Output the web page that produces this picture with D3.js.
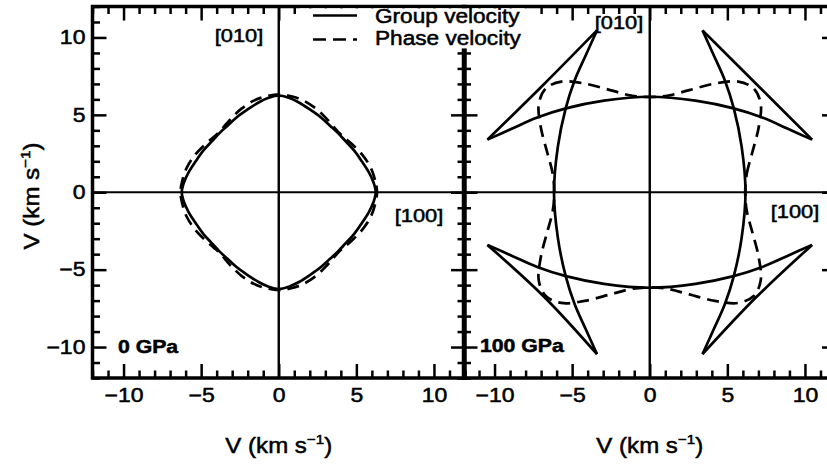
<!DOCTYPE html>
<meta charset="utf-8">
<style>
body { margin: 0; background: #fff; }
text { font-family: "Liberation Sans", Arial, sans-serif; fill: #000; stroke: #000; stroke-width: 0.5px; }
</style>
<svg width="827" height="464"></svg>
<script src="https://cdn.jsdelivr.net/npm/d3@7"></script>
<script>

// tick values (km/s)
var majorTicks = [-10, -5, 0, 5, 10],
    minorTicks = [-12, -11, -9, -8, -7, -6, -4, -3, -2, -1, 1, 2, 3, 4, 6, 7, 8, 9, 11, 12];

// 0 GPa: group velocity (closed curve)
var group0 = [
  [6.25, 0], [6.1, 0.65], [5.8, 1.3], [5.35, 2.0], [4.85, 2.7], [4.3, 3.3], [3.82, 3.82], [3.3, 4.3], [2.7, 4.85], [2.0, 5.35], [1.3, 5.8], [0.65, 6.1],
  [0, 6.25], [-0.65, 6.1], [-1.3, 5.8], [-2.0, 5.35], [-2.7, 4.85], [-3.3, 4.3], [-3.82, 3.82], [-4.3, 3.3], [-4.85, 2.7], [-5.35, 2.0], [-5.8, 1.3], [-6.1, 0.65],
  [-6.25, 0], [-6.1, -0.65], [-5.8, -1.3], [-5.35, -2.0], [-4.85, -2.7], [-4.3, -3.3], [-3.82, -3.82], [-3.3, -4.3], [-2.7, -4.85], [-2.0, -5.35], [-1.3, -5.8], [-0.65, -6.1],
  [0, -6.25], [0.65, -6.1], [1.3, -5.8], [2.0, -5.35], [2.7, -4.85], [3.3, -4.3], [3.82, -3.82], [4.3, -3.3], [4.85, -2.7], [5.35, -2.0], [5.8, -1.3], [6.1, -0.65]
];

// 0 GPa: phase velocity (closed curve)
var phase0 = [
  [6.33, 0], [6.2, 0.8], [5.92, 1.6], [5.4, 2.4], [4.75, 3.08], [4.18, 3.58], [3.86, 3.86], [3.58, 4.18], [3.08, 4.75], [2.4, 5.4], [1.6, 5.92], [0.8, 6.2],
  [0, 6.33], [-0.8, 6.2], [-1.6, 5.92], [-2.4, 5.4], [-3.08, 4.75], [-3.58, 4.18], [-3.86, 3.86], [-4.18, 3.58], [-4.75, 3.08], [-5.4, 2.4], [-5.92, 1.6], [-6.2, 0.8],
  [-6.33, 0], [-6.2, -0.8], [-5.92, -1.6], [-5.4, -2.4], [-4.75, -3.08], [-4.18, -3.58], [-3.86, -3.86], [-3.58, -4.18], [-3.08, -4.75], [-2.4, -5.4], [-1.6, -5.92], [-0.8, -6.2],
  [0, -6.33], [0.8, -6.2], [1.6, -5.92], [2.4, -5.4], [3.08, -4.75], [3.58, -4.18], [3.86, -3.86], [4.18, -3.58], [4.75, -3.08], [5.4, -2.4], [5.92, -1.6], [6.2, -0.8]
];

// 100 GPa: group velocity branches (wavefront with cusps)
var upperArc = [[-10.46, 3.4], [-8.9, 4.1], [-7.25, 4.83], [-5.4, 5.42], [-2.95, 5.92], [0, 6.17], [2.95, 5.92], [5.4, 5.42], [7.25, 4.83], [8.9, 4.1], [10.46, 3.4]],
    lowerArc = [[-10.46, -3.4], [-8.9, -4.1], [-7.25, -4.83], [-5.4, -5.42], [-2.95, -5.92], [0, -6.17], [2.95, -5.92], [5.4, -5.42], [7.25, -4.83], [8.9, -4.1], [10.46, -3.4]],
    rightArc = [[3.4, 10.46], [4.1, 8.9], [4.83, 7.25], [5.42, 5.4], [5.92, 2.95], [6.17, 0], [5.92, -2.95], [5.42, -5.4], [4.83, -7.25], [4.1, -8.9], [3.4, -10.46]],
    leftArc = [[-3.4, 10.46], [-4.1, 8.9], [-4.83, 7.25], [-5.42, 5.4], [-5.92, 2.95], [-6.17, 0], [-5.92, -2.95], [-5.42, -5.4], [-4.83, -7.25], [-4.1, -8.9], [-3.4, -10.46]],
    cuspNE = [[10.46, 3.4], [6.93, 6.93], [3.4, 10.46]],
    cuspNW = [[-10.46, 3.4], [-6.9, 6.9], [-3.4, 10.46]],
    cuspSW = [[-10.46, -3.4], [-6.78, -6.78], [-3.4, -10.46]],
    cuspSE = [[10.46, -3.4], [6.82, -6.82], [3.4, -10.46]];

// 100 GPa: phase velocity (closed curve)
var phase100 = [
  [6.15, 0], [6.25, 1.2], [6.6, 2.55], [7.02, 4.2], [7.15, 5.7], [6.7, 6.7], [5.7, 7.15], [4.2, 7.02], [2.55, 6.6], [1.2, 6.25],
  [0, 6.15], [-1.2, 6.25], [-2.55, 6.6], [-4.2, 7.02], [-5.7, 7.15], [-6.7, 6.7], [-7.15, 5.7], [-7.02, 4.2], [-6.6, 2.55], [-6.25, 1.2],
  [-6.15, 0], [-6.25, -1.2], [-6.6, -2.55], [-7.02, -4.2], [-7.15, -5.7], [-6.7, -6.7], [-5.7, -7.15], [-4.2, -7.02], [-2.55, -6.6], [-1.2, -6.25],
  [0, -6.15], [1.2, -6.25], [2.55, -6.6], [4.2, -7.02], [5.7, -7.15], [6.7, -6.7], [7.15, -5.7], [7.02, -4.2], [6.6, -2.55], [6.25, -1.2]
];

var svg = d3.select("svg"),
    stretch = "scale(1.18,1)";

var y = d3.scaleLinear().domain([-12, 12]).range([378, 6.5]);
var xLeft = d3.scaleLinear().domain([-12, 12]).range([92.5, 465]),
    xRight = d3.scaleLinear().domain([-12, 12]).range([463.5, 836]);

function drawPanel(x, solids, dashed, closedSolid, withYLabels) {
  var g = svg.append("g");
  var x0 = x.range()[0], x1 = x.range()[1], y0 = y.range()[1], y1 = y.range()[0];

  // zero lines
  g.append("line").attr("x1", x0).attr("x2", x1).attr("y1", y(0)).attr("y2", y(0))
      .attr("stroke", "#000").attr("stroke-width", 2);
  g.append("line").attr("x1", x(0)).attr("x2", x(0)).attr("y1", y0).attr("y2", y1)
      .attr("stroke", "#000").attr("stroke-width", 2.4);

  var line = d3.line().x(d => x(d[0])).y(d => y(d[1]));

  dashed.forEach(function(pts) {
    g.append("path").attr("d", line.curve(d3.curveCatmullRomClosed)(pts))
        .attr("fill", "none").attr("stroke", "#000").attr("stroke-width", 2.7)
        .attr("stroke-dasharray", "12,7");
  });
  solids.forEach(function(pts) {
    g.append("path").attr("d", line.curve(closedSolid ? d3.curveCatmullRomClosed : d3.curveCatmullRom)(pts))
        .attr("fill", "none").attr("stroke", "#000").attr("stroke-width", 2.7)
        .attr("stroke-linejoin", "round");
  });

  // frame
  g.append("rect").attr("x", x0).attr("y", y0).attr("width", x1 - x0).attr("height", y1 - y0)
      .attr("fill", "none").attr("stroke", "#000").attr("stroke-width", 3.5);

  // inward ticks on all four sides
  [[majorTicks, -14], [minorTicks, -7.5]].forEach(function(t) {
    var vals = t[0], size = t[1], isMajor = vals === majorTicks;
    var axes = [
      [d3.axisBottom(x), "translate(0," + y1 + ")", isMajor, 10.5],
      [d3.axisTop(x), "translate(0," + y0 + ")", false, 10],
      [d3.axisLeft(y), "translate(" + x0 + ",0)", isMajor && withYLabels, 6],
      [d3.axisRight(y), "translate(" + x1 + ",0)", false, 10]
    ];
    axes.forEach(function(a) {
      var ax = a[0].tickValues(vals).tickSize(size).tickPadding(a[3]);
      if (!a[2]) ax.tickFormat("");
      var ag = g.append("g").attr("transform", a[1]).call(ax)
          .attr("font-size", 19.5).attr("font-family", null);
      ag.select(".domain").remove();
      ag.selectAll("line").attr("stroke-width", 2.5);
      ag.selectAll("text").attr("transform", stretch);
    });
  });
  return g;
}

drawPanel(xLeft, [group0], [phase0], true, true);
drawPanel(xRight, [upperArc, lowerArc, rightArc, leftArc, cuspNE, cuspNW, cuspSW, cuspSE], [phase100], false, false);

// legend
var lg = svg.append("g");
lg.append("rect").attr("x", 300).attr("y", 8.4).attr("width", 228).attr("height", 40).attr("fill", "#fff");
lg.append("line").attr("x1", 313).attr("x2", 357).attr("y1", 15.5).attr("y2", 15.5)
    .attr("stroke", "#000").attr("stroke-width", 2.7);
lg.append("line").attr("x1", 313).attr("x2", 357).attr("y1", 39.5).attr("y2", 39.5)
    .attr("stroke", "#000").attr("stroke-width", 2.7).attr("stroke-dasharray", "13,7");
[["Group velocity", 23], ["Phase velocity", 45]].forEach(function(d) {
  lg.append("text").attr("transform", "translate(375," + d[1] + ") scale(1.16,1)")
      .attr("font-size", 19.5).text(d[0]);
});

// direction and pressure labels
function label(txt, cx, by, opts) {
  opts = opts || {};
  svg.append("text").attr("transform", "translate(" + cx + "," + by + ") " + stretch)
      .attr("text-anchor", opts.anchor || "middle")
      .attr("font-size", opts.size || 18.5)
      .attr("font-weight", opts.bold ? "bold" : null)
      .text(txt);
}
label("[010]", 239, 42);
label("[100]", 419, 222);
label("[010]", 619, 29);
label("[100]", 795, 218);
label("0 GPa", 118, 353, {anchor: "start", bold: true, size: 18});
label("100 GPa", 480, 352, {anchor: "start", bold: true, size: 18});

// axis titles
function title(tr) {
  var t = svg.append("text").attr("transform", tr).attr("text-anchor", "middle").attr("font-size", 21.5);
  t.append("tspan").text("V (km s");
  t.append("tspan").attr("dy", -9).attr("font-size", 13.5).text("\u22121");
  t.append("tspan").attr("dy", 9).text(")");
}
title("translate(" + xLeft(0) + ",453) scale(1.12,1)");
title("translate(" + xRight(0) + ",453) scale(1.12,1)");
title("translate(39,196) rotate(-90) scale(1.12,1)");

</script>
